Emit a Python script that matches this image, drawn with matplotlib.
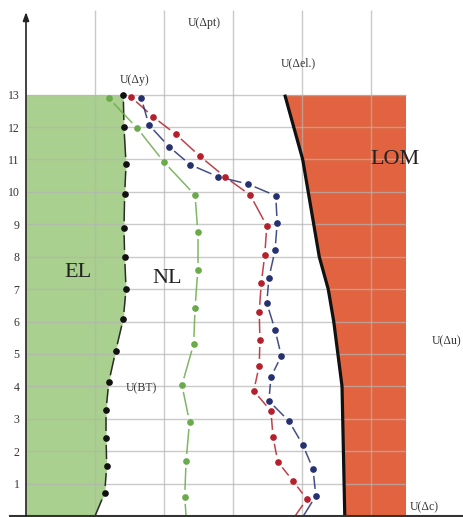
import matplotlib
matplotlib.use("Agg")
import matplotlib.pyplot as plt
import numpy as np

# ---- data ----
levels = list(range(1, 14))
tick_labels = [str(v) for v in levels]

# EL boundary (black dashed with dots); last point is the axis end (no marker)
black_x = [1.41, 1.42, 1.45, 1.43, 1.42, 1.43, 1.45, 1.41, 1.30, 1.20, 1.16, 1.16, 1.17, 1.14, 1.00]
black_y = [13.0, 12.0, 10.86, 9.93, 8.88, 7.99, 7.0, 6.08, 5.09, 4.13, 3.27, 2.41, 1.54, 0.71, 0.0]

green_x = [1.20, 1.61, 2.00, 2.45, 2.49, 2.49, 2.45, 2.43, 2.26, 2.37, 2.32, 2.30, 2.32]
green_y = [12.89, 11.97, 10.92, 9.90, 8.76, 7.59, 6.42, 5.31, 4.04, 2.90, 1.70, 0.59, 0.0]

red_x = [1.52, 1.84, 2.17, 2.52, 2.88, 3.25, 3.49, 3.46, 3.41, 3.38, 3.39, 3.38, 3.30, 3.55, 3.58, 3.65, 3.87, 4.07, 3.90]
red_y = [12.93, 12.32, 11.78, 11.10, 10.47, 9.90, 8.95, 8.05, 7.19, 6.30, 5.43, 4.63, 3.86, 3.24, 2.44, 1.67, 1.08, 0.52, 0.0]

blue_x = [1.67, 1.78, 2.07, 2.38, 2.78, 3.22, 3.62, 3.64, 3.61, 3.52, 3.49, 3.61, 3.70, 3.55, 3.52, 3.81, 4.01, 4.16, 4.20, 4.02]
blue_y = [12.90, 12.07, 11.40, 10.84, 10.47, 10.24, 9.88, 9.04, 8.20, 7.35, 6.57, 5.74, 4.94, 4.29, 3.55, 2.93, 2.20, 1.45, 0.62, 0.0]

# LOM boundary (thick black line)
lom_x = [3.75, 4.01, 4.25, 4.38, 4.46, 4.52, 4.58, 4.59, 4.60, 4.62]
lom_y = [13.0, 11.0, 8.0, 7.0, 6.0, 5.0, 4.0, 3.0, 2.0, 0.0]
x_right = 5.5

labels = [
    ("U(Δpt)", 2.58, 15.2, 8.5),
    ("U(Δy)", 1.58, 13.45, 8.5),
    ("U(Δel.)", 3.94, 13.97, 8.5),
    ("U(BT)", 1.67, 3.95, 8.5),
    ("U(Δu)", 6.09, 5.4, 8.5),
    ("U(Δc)", 5.77, 0.28, 8.5),
    ("EL", 0.75, 7.5, 16),
    ("NL", 2.05, 7.33, 16),
    ("LOM", 5.35, 11.0, 16),
]

# ---- figure ----
plt.rcParams['font.family'] = ['Liberation Serif', 'DejaVu Serif']
fig = plt.figure(figsize=(4.64, 5.17), dpi=100)
ax = fig.add_axes([0, 0, 1, 1])
ax.set_xlim(-26 / 69, 438 / 69)
ax.set_ylim(-0.031, 15.92)
for s in ax.spines.values():
    s.set_visible(False)

green_fill = "#a9d08e"
orange_fill = "#e2633f"

# EL fill
ax.fill_betweenx(black_y, 0, black_x, color=green_fill, lw=0, zorder=1)
# LOM fill
ax.fill_betweenx(lom_y, lom_x, x_right, color=orange_fill, lw=0, zorder=1)

# grid
ax.hlines(levels, 0, x_right, colors="#b4b4b4", lw=1.0, alpha=0.7, zorder=2)
ax.vlines([1, 2, 3, 4, 5], 0, 15.6, colors="#b4b4b4", lw=1.0, alpha=0.7, zorder=2)

# axes
ax.axhline(0, xmin=10 / 464, xmax=1, color="#333333", lw=1.5, zorder=5)
ax.annotate("", xy=(0, 15.55), xytext=(0, 0),
            arrowprops=dict(arrowstyle="-|>,head_length=0.5,head_width=0.18",
                            color="#222222", lw=1.2, shrinkA=0, shrinkB=0),
            zorder=5)

# y tick labels
ax.set_yticks(levels)
ax.set_yticklabels(tick_labels)
ax.tick_params(axis="y", length=0, pad=-14, labelsize=8.5, labelcolor="#333333")
ax.set_xticks([])
for lab in ax.get_yticklabels():
    lab.set_horizontalalignment("right")

GAP_PX = 7.0  # gap (pixels) between dot centre and dash end


def dashed_series(xs, ys, color, ms=3.8):
    pts = ax.transData.transform(np.column_stack([xs, ys]))
    inv = ax.transData.inverted()
    n = len(pts)
    for i in range(n - 1):
        p0, p1 = pts[i], pts[i + 1]
        d = p1 - p0
        L = np.hypot(*d)
        u = d / L
        a = p0 + u * GAP_PX
        b = p1 - u * (0 if i == n - 2 else GAP_PX)
        seg = inv.transform(np.vstack([a, b]))
        ax.plot(seg[:, 0], seg[:, 1], color=color, lw=1.1, alpha=0.85,
                zorder=3, solid_capstyle="butt")
    ax.plot(xs[:-1], ys[:-1], ls="none", marker="o", ms=ms, color=color,
            mec=color, zorder=4)


dashed_series(black_x, black_y, "#111111")
dashed_series(green_x, green_y, "#6aaa4a")
dashed_series(red_x, red_y, "#b3202c")
dashed_series(blue_x, blue_y, "#25306e")

# LOM boundary
ax.plot(lom_x, lom_y, color="#111111", lw=2.3, zorder=4, solid_capstyle="butt")

for txt, x, y, fs in labels:
    ax.text(x, y, txt, ha="center", va="center", fontsize=fs,
            color="#222222" if fs > 10 else "#333333", zorder=6)

fig.savefig("out.png", dpi=100)
